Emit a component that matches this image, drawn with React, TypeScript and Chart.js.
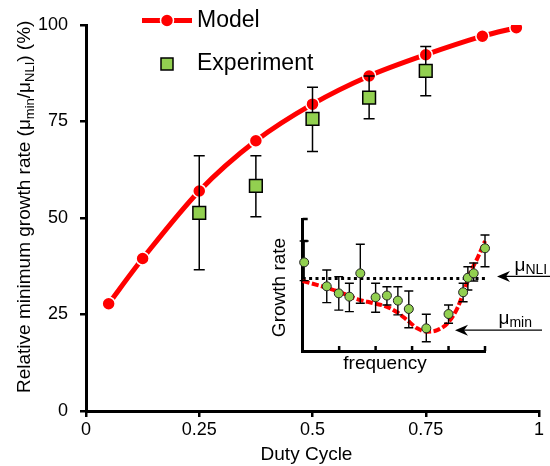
import React, { useEffect, useRef } from "react";
import { Chart, registerables } from "chart.js";

Chart.register(...registerables);

const FONT = "'Liberation Sans', Arial, Helvetica, sans-serif";
const RED = "#ff0000";
const GREEN = "#92d050";

// ---------- main chart data ----------
const modelDuty = [0.05, 0.125, 0.25, 0.375, 0.5, 0.625, 0.75, 0.875, 0.95];
const modelRate = [27.8, 39.5, 57, 70, 79.5, 86.8, 92.3, 97.1, 99.3];
const expDuty = [0.25, 0.375, 0.5, 0.625, 0.75];
const expRate = [51.3, 58.3, 75.7, 81.2, 88.1];
const expLow = [36.6, 50.3, 67.2, 75.7, 81.7];
const expHigh = [66.1, 66.1, 83.9, 86.8, 94.4];
const xTickLabels = ["0", "0.25", "0.5", "0.75", "1"];
const yTickLabels = ["0", "25", "50", "75", "100"];
const legendLabels = ["Model", "Experiment"];
const xTitle = "Duty Cycle";

// ---------- inset data ----------
const curveFreq = [0, 0.57, 1.03, 1.49, 1.95, 2.31, 2.59, 2.86, 3.14, 3.42, 3.69, 3.97, 4.24, 4.42, 4.61, 4.79, 5.0];
const curveRate = [3.18, 2.92, 2.67, 2.36, 2.17, 2.01, 1.76, 1.41, 1.03, 0.88, 0.95, 1.26, 1.94, 2.7, 3.6, 4.21, 5.0];
const ptFreq = [0.04, 0.66, 0.99, 1.28, 1.58, 2.0, 2.31, 2.61, 2.91, 3.39, 4.0, 4.4, 4.53, 4.69, 5.0];
const ptRate = [4.03, 2.94, 2.62, 2.47, 3.53, 2.44, 2.52, 2.29, 1.91, 1.03, 1.68, 2.67, 3.33, 3.53, 4.67];
const ptHigh = [5.0, 3.68, 3.38, 3.08, 4.85, 3.08, 2.92, 2.92, 2.73, 1.67, 2.09, 3.08, 3.83, 4.0, 5.27];
const ptLow = [3.2, 2.2, 1.86, 1.79, 2.17, 1.76, 2.09, 1.64, 1.06, 0.42, 1.26, 2.24, 2.77, 3.18, 3.83];
const nliFreq = [0, 5.07];
const nliLevel = 3.3;
const insetXTicks = [1, 2, 3, 4, 5];
const insetYTicks = [5, 6];

function drawErrorBars(ctx: CanvasRenderingContext2D, xs: any, ys: any, xv: number[], lo: number[], hi: number[], cap: number, lw: number) {
  ctx.save();
  ctx.strokeStyle = "#000";
  ctx.lineWidth = lw;
  for (let i = 0; i < xv.length; i++) {
    const x = xs.getPixelForValue(xv[i]);
    const yl = ys.getPixelForValue(lo[i]);
    const yh = ys.getPixelForValue(hi[i]);
    ctx.beginPath();
    ctx.moveTo(x, yh);
    ctx.lineTo(x, yl);
    ctx.moveTo(x - cap, yh);
    ctx.lineTo(x + cap, yh);
    ctx.moveTo(x - cap, yl);
    ctx.lineTo(x + cap, yl);
    ctx.stroke();
  }
  ctx.restore();
}

function drawArrow(ctx: CanvasRenderingContext2D, tx: number, ty: number, endX: number) {
  ctx.save();
  ctx.strokeStyle = "#000";
  ctx.fillStyle = "#000";
  ctx.lineWidth = 1.3;
  ctx.beginPath();
  ctx.moveTo(tx + 4, ty);
  ctx.lineTo(endX, ty);
  ctx.stroke();
  ctx.beginPath();
  ctx.moveTo(tx, ty);
  ctx.lineTo(tx + 13, ty - 5.5);
  ctx.lineTo(tx + 9, ty);
  ctx.lineTo(tx + 13, ty + 5.5);
  ctx.closePath();
  ctx.fill();
  ctx.restore();
}

function drawMuLabel(ctx: CanvasRenderingContext2D, x: number, y: number, sub: string) {
  ctx.save();
  ctx.fillStyle = "#000";
  ctx.textBaseline = "alphabetic";
  ctx.textAlign = "left";
  ctx.font = `19px ${FONT}`;
  ctx.fillText("μ", x, y);
  const w = ctx.measureText("μ").width;
  ctx.font = `14px ${FONT}`;
  ctx.fillText(sub, x + w, y + 3);
  ctx.restore();
}

const mainPlugin = {
  id: "mainDecor",
  beforeDatasetDraw(chart: any, args: any) {
    if (args.index !== 1) return;
    drawErrorBars(chart.ctx, chart.scales.x, chart.scales.y, expDuty, expLow, expHigh, 5.5, 1.5);
  },
  afterDraw(chart: any) {
    const ctx: CanvasRenderingContext2D = chart.ctx;
    const ca = chart.chartArea;
    // y title with subscripts
    ctx.save();
    ctx.fillStyle = "#000";
    ctx.translate(30, 393);
    ctx.rotate(-Math.PI / 2);
    ctx.textBaseline = "alphabetic";
    ctx.textAlign = "left";
    const parts: [string, number, number][] = [
      ["Relative minimum growth rate (μ", 19, 0],
      ["min", 13, 4],
      ["/μ", 19, 0],
      ["NLI", 13, 4],
      [") (%)", 19, 0],
    ];
    let px = 0;
    for (const [t, s, dy] of parts) {
      ctx.font = `${s}px ${FONT}`;
      ctx.fillText(t, px, dy);
      px += ctx.measureText(t).width;
    }
    ctx.restore();

    // x title
    ctx.save();
    ctx.fillStyle = "#000";
    ctx.font = `19px ${FONT}`;
    ctx.textAlign = "center";
    ctx.textBaseline = "middle";
    ctx.fillText(xTitle, (ca.left + ca.right) / 2 - 6, 455);
    ctx.restore();

    // legend
    ctx.save();
    ctx.strokeStyle = RED;
    ctx.lineWidth = 5;
    ctx.beginPath();
    ctx.moveTo(142, 20.5);
    ctx.lineTo(192, 20.5);
    ctx.stroke();
    ctx.beginPath();
    ctx.arc(167, 20.5, 6.5, 0, Math.PI * 2);
    ctx.fillStyle = RED;
    ctx.fill();
    ctx.lineWidth = 1.5;
    ctx.strokeStyle = "#fff";
    ctx.stroke();
    ctx.fillStyle = GREEN;
    ctx.fillRect(161, 58, 12, 12);
    ctx.strokeStyle = "#000";
    ctx.lineWidth = 1.5;
    ctx.strokeRect(161, 58, 12, 12);
    ctx.fillStyle = "#000";
    ctx.font = `23px ${FONT}`;
    ctx.textAlign = "left";
    ctx.textBaseline = "middle";
    ctx.fillText(legendLabels[0], 197, 21);
    ctx.fillText(legendLabels[1], 197, 64);
    ctx.restore();
  },
};

const insetPlugin = {
  id: "insetDecor",
  beforeDatasetDraw(chart: any, args: any) {
    if (args.index !== 2) return;
    drawErrorBars(chart.ctx, chart.scales.x, chart.scales.y, ptFreq, ptLow, ptHigh, 4.5, 1.4);
  },
  afterDraw(chart: any) {
    const ctx: CanvasRenderingContext2D = chart.ctx;
    const ca = chart.chartArea;
    const xs = chart.scales.x;
    const ys = chart.scales.y;
    ctx.save();
    ctx.strokeStyle = "#000";
    ctx.lineWidth = 2.5;
    ctx.beginPath();
    for (const v of insetXTicks) {
      const x = xs.getPixelForValue(v);
      ctx.moveTo(x, ca.bottom);
      ctx.lineTo(x, ca.bottom - 5);
    }
    for (const v of insetYTicks) {
      const y = ys.getPixelForValue(v);
      ctx.moveTo(ca.left, y);
      ctx.lineTo(ca.left + 5, y);
    }
    ctx.stroke();
    ctx.restore();

    // titles
    ctx.save();
    ctx.fillStyle = "#000";
    ctx.font = `19px ${FONT}`;
    ctx.textAlign = "center";
    ctx.textBaseline = "middle";
    ctx.fillText("frequency", 123, 163.5);
    ctx.translate(17.3, 87.5);
    ctx.rotate(-Math.PI / 2);
    ctx.fillText("Growth rate", 0, 0);
    ctx.restore();

    // arrows and labels
    const nliY = ys.getPixelForValue(nliLevel) - 2;
    drawArrow(ctx, ca.right + 12, nliY, chart.width);
    drawMuLabel(ctx, ca.right + 29.5, nliY - 5, "NLI");
    const minY = ys.getPixelForValue(Math.min(...curveRate)) - 1.5;
    drawArrow(ctx, ca.right - 30, minY, ca.right + 57);
    drawMuLabel(ctx, ca.right + 13.5, minY - 6, "min");
  },
};

export default function App() {
  const mainRef = useRef<HTMLCanvasElement>(null);
  const insetRef = useRef<HTMLCanvasElement>(null);

  useEffect(() => {
    const tickFont = { family: FONT, size: 18 };
    const main = new Chart(mainRef.current as HTMLCanvasElement, {
      type: "scatter",
      data: {
        datasets: [
          {
            label: legendLabels[0],
            data: modelDuty.map((x, i) => ({ x, y: modelRate[i] })),
            showLine: true,
            borderColor: RED,
            borderWidth: 5,
            tension: 0.3,
            pointRadius: 6.5,
            pointBackgroundColor: RED,
            pointBorderColor: "#fff",
            pointBorderWidth: 1.5,
            order: 2,
          } as any,
          {
            label: legendLabels[1],
            data: expDuty.map((x, i) => ({ x, y: expRate[i] })),
            showLine: false,
            pointStyle: "rect",
            pointRadius: 9,
            pointBackgroundColor: GREEN,
            pointBorderColor: "#000",
            pointBorderWidth: 1.5,
            order: 1,
          } as any,
        ],
      },
      options: {
        responsive: false,
        animation: false,
        devicePixelRatio: 1,
        layout: { padding: { left: 0, top: 25, right: 11, bottom: 0 } },
        plugins: { legend: { display: false }, tooltip: { enabled: false } },
        scales: {
          x: {
            type: "linear",
            min: 0,
            max: 1,
            ticks: {
              stepSize: 0.25,
              color: "#000",
              font: tickFont,
              padding: 2,
              maxRotation: 0,
              callback: (_v: any, i: number) => xTickLabels[i],
            },
            grid: { drawOnChartArea: false, drawTicks: true, tickLength: 6, color: "#000", lineWidth: 2.5 },
            border: { display: true, color: "#000", width: 3 },
            afterFit: (s: any) => {
              s.height = 55;
            },
          },
          y: {
            type: "linear",
            min: 0,
            max: 100,
            ticks: {
              stepSize: 25,
              color: "#000",
              font: tickFont,
              padding: 12,
              callback: (_v: any, i: number) => yTickLabels[i],
            },
            grid: { drawOnChartArea: false, drawTicks: true, tickLength: 6, color: "#000", lineWidth: 2.5 },
            border: { display: true, color: "#000", width: 3 },
            afterFit: (s: any) => {
              s.width = 86;
            },
          },
        },
      } as any,
      plugins: [mainPlugin],
    });

    const inset = new Chart(insetRef.current as HTMLCanvasElement, {
      type: "scatter",
      data: {
        datasets: [
          {
            label: "NLI",
            data: nliFreq.map((x) => ({ x, y: nliLevel })),
            showLine: true,
            borderColor: "#000",
            borderWidth: 3,
            borderDash: [3, 3.4],
            pointRadius: 0,
            clip: false,
            order: 3,
          } as any,
          {
            label: "Fit",
            data: curveFreq.map((x, i) => ({ x, y: curveRate[i] })),
            showLine: true,
            borderColor: RED,
            borderWidth: 4,
            borderDash: [7, 2.5],
            cubicInterpolationMode: "monotone",
            pointRadius: 0,
            clip: false,
            order: 2,
          } as any,
          {
            label: "Data",
            data: ptFreq.map((x, i) => ({ x, y: ptRate[i] })),
            showLine: false,
            pointRadius: 4.5,
            pointBackgroundColor: GREEN,
            pointBorderColor: "#222",
            pointBorderWidth: 1,
            clip: false,
            order: 1,
          } as any,
        ],
      },
      options: {
        responsive: false,
        animation: false,
        devicePixelRatio: 1,
        layout: { padding: { left: 0, top: 19, right: 65, bottom: 0 } },
        plugins: { legend: { display: false }, tooltip: { enabled: false } },
        scales: {
          x: {
            type: "linear",
            min: 0,
            max: 5,
            ticks: { display: false },
            grid: { display: false },
            border: { display: true, color: "#000", width: 3 },
            afterFit: (s: any) => {
              s.height = 29;
            },
          },
          y: {
            type: "linear",
            min: 0,
            max: 6,
            ticks: { display: false },
            grid: { display: false },
            border: { display: true, color: "#000", width: 3 },
            afterFit: (s: any) => {
              s.width = 40.7;
            },
          },
        },
      } as any,
      plugins: [insetPlugin],
    });

    return () => {
      main.destroy();
      inset.destroy();
    };
  }, []);

  return (
    <div style={{ position: "fixed", left: 0, top: 0, width: 550, height: 466, background: "#fff" }}>
      <canvas ref={mainRef} width={550} height={466} style={{ position: "absolute", left: 0, top: 0, display: "block" }} />
      <canvas ref={insetRef} width={288} height={180} style={{ position: "absolute", left: 262, top: 200, display: "block" }} />
    </div>
  );
}
